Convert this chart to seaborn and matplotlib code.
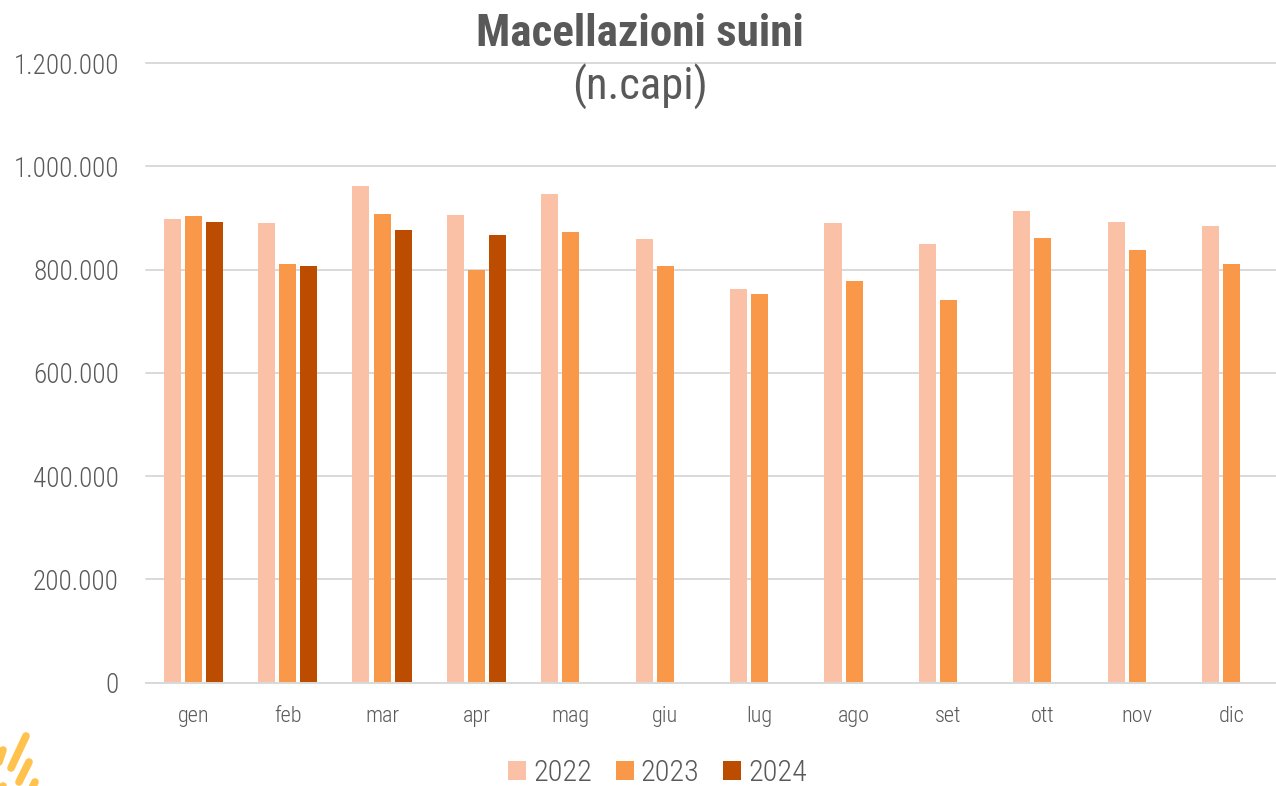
import seaborn as sns
import matplotlib.pyplot as plt
import pandas as pd
from matplotlib.lines import Line2D
from matplotlib.patches import Patch
from matplotlib.ticker import FuncFormatter

months = ['gen', 'feb', 'mar', 'apr', 'mag', 'giu', 'lug', 'ago', 'set', 'ott', 'nov', 'dic']
y2022 = [897000, 891000, 962000, 906000, 946000, 860000, 762000, 890000, 849000, 913000, 892000, 885000]
y2023 = [903000, 811000, 907000, 800000, 872000, 806000, 753000, 777000, 740000, 861000, 838000, 811000]
y2024 = [892000, 806000, 876000, 866000]
colors = ['#FBC1A6', '#F99848', '#BC4C00']

df = pd.concat([
    pd.DataFrame({'mese': months, 'valore': y2022, 'anno': '2022'}),
    pd.DataFrame({'mese': months, 'valore': y2023, 'anno': '2023'}),
    pd.DataFrame({'mese': months[:len(y2024)], 'valore': y2024, 'anno': '2024'}),
])

sns.set_style("white")
plt.rcParams['font.family'] = ['Roboto Condensed', 'DejaVu Sans']
plt.rcParams['font.weight'] = 300
grey = '#595959'

fig = plt.figure(figsize=(12.76, 7.86), dpi=100)
# the plot area runs a few pixels past the right edge of the picture
ax = fig.add_axes([146 / 1276, 1 - 682.5 / 786, 1133 / 1276, 619.5 / 786])

sns.barplot(data=df, x='mese', y='valore', hue='anno', order=months,
            palette=colors, width=0.67, gap=0.19, saturation=1, legend=False, ax=ax)

ax.set_ylim(0, 1200000)
ax.set_xlim(-0.5, 11.5)
ax.set_yticks(range(0, 1200001, 200000))
ax.yaxis.set_major_formatter(FuncFormatter(lambda v, _: f'{int(v):,}'.replace(',', '.')))
ax.set_xlabel('')
ax.set_ylabel('')
ax.grid(axis='y', color='#D9D9D9', lw=1.4)
ax.set_axisbelow(True)
for gl in ax.get_ygridlines():
    gl.set_clip_on(False)
sns.despine(ax=ax, left=True, top=True, right=True)
ax.spines['bottom'].set_color('#D9D9D9')
ax.spines['bottom'].set_linewidth(1.4)
ax.tick_params(axis='y', length=0, labelsize=19.5, labelcolor=grey, pad=19.5)
ax.tick_params(axis='x', length=0, labelsize=16, labelcolor=grey, pad=17)
for b in ax.patches:
    b.set_linewidth(0)

fig.text(640 / 1276, 1 - 33.5 / 786, 'Macellazioni suini', ha='center', va='center',
         fontsize=32.5, fontweight='bold', color=grey)
fig.text(640 / 1276, 1 - 87 / 786, '(n.capi)', ha='center', va='center',
         fontsize=32, fontweight=400, color=grey)

handles = [Patch(facecolor=c, label=l, linewidth=0) for c, l in zip(colors, ['2022', '2023', '2024'])]
fig.legend(handles=handles, loc='center', bbox_to_anchor=(657.5 / 1276, 1 - 773 / 786), ncol=3,
           frameon=False, fontsize=21.7, labelcolor=grey, handlelength=0.6, handleheight=0.6,
           handletextpad=0.23, columnspacing=0.78, borderpad=0, borderaxespad=0)

# logo strokes, bottom left corner
logo = [((26, 736), (11, 768)), ((3, 750), (-2, 765)), ((29, 762), (19, 782)),
        ((35, 782), (30, 792)), ((3, 786), (1, 790))]
for (x0, y0), (x1, y1) in logo:
    fig.add_artist(Line2D([x0 / 1276, x1 / 1276], [1 - y0 / 786, 1 - y1 / 786],
                          transform=fig.transFigure, color='#FFC34D', lw=5.5,
                          solid_capstyle='round'))

plt.savefig("out.png", dpi=100)
plt.close()
